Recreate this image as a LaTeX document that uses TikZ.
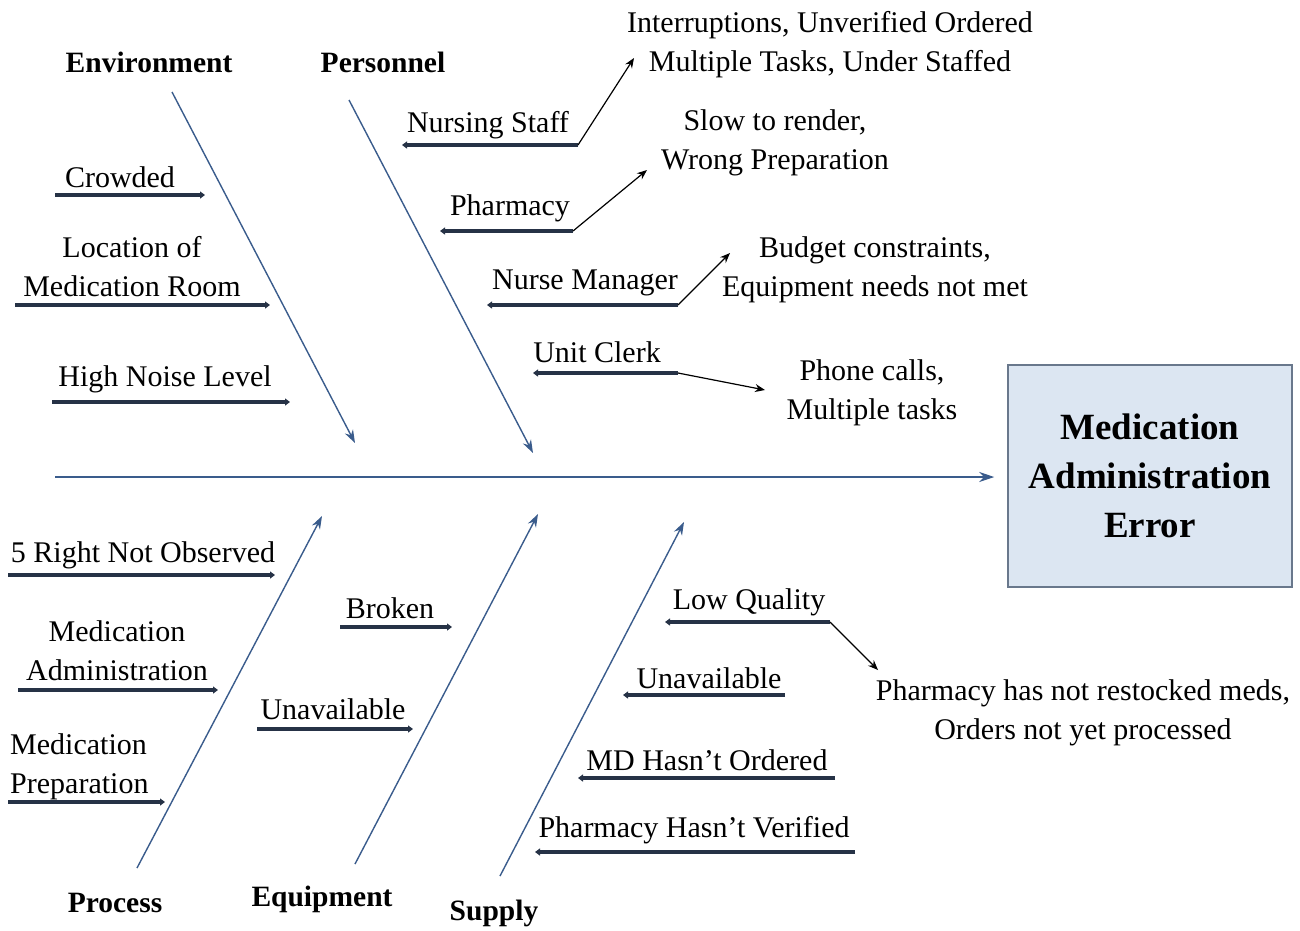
\documentclass[tikz,border=0pt]{standalone}
\usepackage{fontspec}
\setmainfont{Liberation Serif}
\usetikzlibrary{arrows.meta}
\definecolor{bone}{RGB}{58,92,140}
\definecolor{sub}{RGB}{38,50,70}
\definecolor{boxfill}{RGB}{220,230,242}
\definecolor{boxline}{RGB}{105,120,140}
\begin{document}
\begin{tikzpicture}[x=1pt,y=-1pt,
  lbl/.style={inner sep=0pt, align=center, yshift=-2pt, font=\fontsize{30}{39}\selectfont},
  cat/.style={inner sep=0pt, font=\fontsize{29.5}{34}\selectfont\bfseries},
  bonearrow/.style={draw=bone, line width=1.4pt, -{Stealth[length=13pt,width=9pt]}},
  spinearrow/.style={draw=bone, line width=1.8pt, -{Stealth[length=15pt,width=10pt]}},
  subarrow/.style={draw=sub, line width=4pt, -{Triangle[length=5pt,width=7pt]}},
  note/.style={draw=black, line width=1.2pt, -{Stealth[length=10pt,width=8pt]}},
]
\useasboundingbox (0,0) rectangle (1300,930);

% effect box and spine
\node[draw=boxline, fill=boxfill, line width=1.5pt, minimum width=284pt,
      minimum height=222pt, align=center,
      font=\fontsize{37}{49}\selectfont\bfseries] (effect) at (1150,476)
      {Medication\\Administration\\Error};
\coordinate (tail) at (55,477);
\draw[spinearrow, shorten >=13pt] (tail) -- (tail -| effect.west);

% category labels
\node[cat] (env) at (149,62) {Environment};
\node[cat] (pers) at (383,62) {Personnel};
\node[cat] (proc) at (115,903) {Process};
\node[cat] (equip) at (322,899) {Equipment};
\node[cat] (supp) at (494,913) {Supply};

% bones
\coordinate (envA) at (172,92);  \coordinate (envB) at (355,443);
\coordinate (persA) at (349,100); \coordinate (persB) at (533,453);
\coordinate (procA) at (137,868); \coordinate (procB) at (322,516);
\coordinate (equipA) at (355,864); \coordinate (equipB) at (538,514);
\coordinate (suppA) at (500,876); \coordinate (suppB) at (684,522);
\draw[bonearrow] (envA) -- (envB);
\draw[bonearrow] (persA) -- (persB);
\draw[bonearrow] (procA) -- (procB);
\draw[bonearrow] (equipA) -- (equipB);
\draw[bonearrow] (suppA) -- (suppB);

% Environment causes
\node[lbl] (crowd) at (120,175) {Crowded};
\coordinate (crowdA) at (55,195); \coordinate (crowdB) at (205,195);
\draw[subarrow] (crowdA) -- (crowdB);
\node[lbl] (loc) at (132,265) {Location of\\Medication Room};
\coordinate (locA) at (15,305); \coordinate (locB) at (270,305);
\draw[subarrow] (locA) -- (locB);
\node[lbl] (noise) at (165,377) {High Noise Level};
\coordinate (noiseA) at (52,402); \coordinate (noiseB) at (290,402);
\draw[subarrow] (noiseA) -- (noiseB);

% Personnel causes
\node[lbl] (nurse) at (488,123) {Nursing Staff};
\coordinate (nurseA) at (578,145); \coordinate (nurseB) at (402,145);
\draw[subarrow] (nurseA) -- (nurseB);
\node[lbl] (nurseN) at (830,43) {Interruptions, Unverified Ordered\\Multiple Tasks, Under Staffed};
\coordinate (nurseT) at (634,58);
\draw[note] (nurseA) -- (nurseT);

\node[lbl] (pharm) at (510,206) {Pharmacy};
\coordinate (pharmA) at (573,231); \coordinate (pharmB) at (440,231);
\draw[subarrow] (pharmA) -- (pharmB);
\node[lbl] (pharmN) at (775,141) {Slow to render,\\Wrong Preparation};
\coordinate (pharmT) at (647,170);
\draw[note] (pharmA) -- (pharmT);

\node[lbl] (mgr) at (585,281) {Nurse Manager};
\coordinate (mgrA) at (678,305); \coordinate (mgrB) at (487,305);
\draw[subarrow] (mgrA) -- (mgrB);
\node[lbl] (mgrN) at (875,268) {Budget constraints,\\Equipment needs not met};
\coordinate (mgrT) at (730,253);
\draw[note] (mgrA) -- (mgrT);

\node[lbl] (clerk) at (597,350) {Unit Clerk};
\coordinate (clerkA) at (678,373); \coordinate (clerkB) at (533,373);
\draw[subarrow] (clerkA) -- (clerkB);
\node[lbl] (clerkN) at (872,391) {Phone calls,\\Multiple tasks};
\coordinate (clerkT) at (765,390);
\draw[note] (clerkA) -- (clerkT);

% Process causes
\node[lbl] (five) at (143,553) {5 Right Not Observed};
\coordinate (fiveA) at (8,575); \coordinate (fiveB) at (275,575);
\draw[subarrow] (fiveA) -- (fiveB);
\node[lbl] (admin) at (117,649) {Medication\\Administration};
\coordinate (adminA) at (18,690); \coordinate (adminB) at (218,690);
\draw[subarrow] (adminA) -- (adminB);
\node[lbl, align=left, anchor=west] (prep) at (10,765) {Medication\\Preparation};
\coordinate (prepA) at (8,802); \coordinate (prepB) at (165,802);
\draw[subarrow] (prepA) -- (prepB);

% Equipment causes
\node[lbl] (broken) at (390,606) {Broken};
\coordinate (brokenA) at (340,627); \coordinate (brokenB) at (452,627);
\draw[subarrow] (brokenA) -- (brokenB);
\node[lbl] (unavE) at (333,707) {Unavailable};
\coordinate (unavEA) at (257,729); \coordinate (unavEB) at (413,729);
\draw[subarrow] (unavEA) -- (unavEB);

% Supply causes
\node[lbl] (lowq) at (749,600) {Low Quality};
\coordinate (lowqA) at (830,622); \coordinate (lowqB) at (665,622);
\draw[subarrow] (lowqA) -- (lowqB);
\node[lbl] (lowqN) at (1083,711) {Pharmacy has not restocked meds,\\Orders not yet processed};
\coordinate (lowqT) at (878,670);
\draw[note] (lowqA) -- (lowqT);

\node[lbl] (unavS) at (709,676) {Unavailable};
\coordinate (unavSA) at (785,695); \coordinate (unavSB) at (623,695);
\draw[subarrow] (unavSA) -- (unavSB);
\node[lbl] (md) at (707,758) {MD Hasn’t Ordered};
\coordinate (mdA) at (835,778); \coordinate (mdB) at (578,778);
\draw[subarrow] (mdA) -- (mdB);
\node[lbl] (ver) at (694,828) {Pharmacy Hasn’t Verified};
\coordinate (verA) at (855,852); \coordinate (verB) at (535,852);
\draw[subarrow] (verA) -- (verB);
\end{tikzpicture}
\end{document}
